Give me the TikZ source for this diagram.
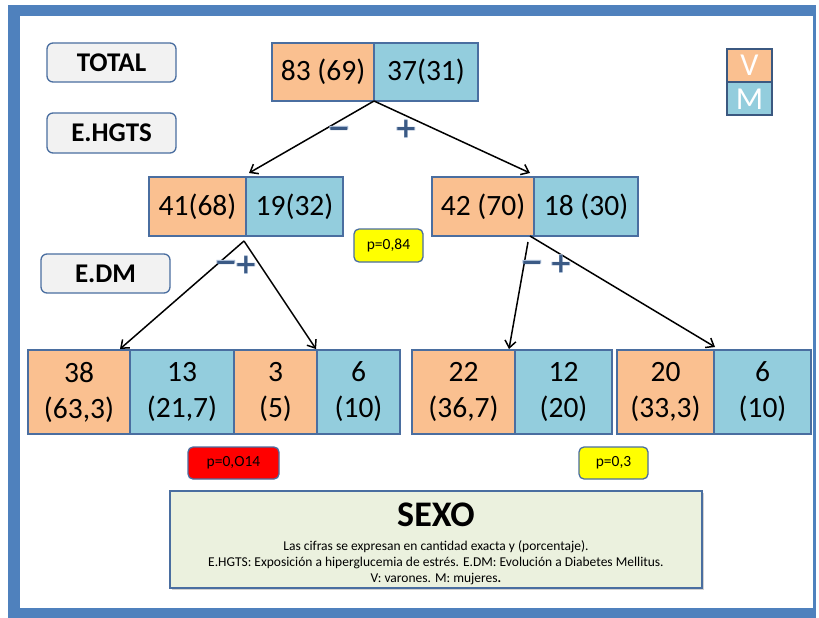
\documentclass[tikz,border=0pt]{standalone}
\usepackage{fontspec}
\setmainfont{Carlito}
\newfontfamily\signfont{DejaVu Sans}
\usetikzlibrary{arrows.meta,shadows}

\definecolor{vcol}{HTML}{FAC090}
\definecolor{mcol}{HTML}{93CDDD}
\definecolor{edgecol}{HTML}{4A6EA0}
\definecolor{framecol}{HTML}{4F81BD}
\definecolor{labelfill}{HTML}{F2F2F2}
\definecolor{notefill}{HTML}{EBF1DE}
\definecolor{signcol}{HTML}{3B5A85}
\definecolor{signglow}{HTML}{A9BCD6}
\definecolor{pyellow}{HTML}{FFFF00}
\definecolor{pred}{HTML}{FF0000}

\tikzset{
  cell/.style={draw=edgecol, line width=1.4pt, inner sep=0pt, outer sep=0pt,
    minimum height=#1, font=\fontsize{29.5}{31}\selectfont, text=black},
  vcell/.style={cell=58, fill=vcol},
  mcell/.style={cell=58, fill=mcol},
  vlow/.style={cell=84, fill=vcol, align=center,
    font=\fontsize{29.5}{36}\selectfont},
  mlow/.style={cell=84, fill=mcol, align=center,
    font=\fontsize{29.5}{36}\selectfont},
  levelbox/.style={draw=edgecol, line width=1.3pt, fill=labelfill,
    rounded corners=6pt, minimum width=129, minimum height=39,
    inner sep=0pt, font=\bfseries\fontsize{27}{29}\selectfont},
  pbox/.style={draw=edgecol, line width=1.3pt, rounded corners=5pt,
    minimum height=32, inner sep=0pt, font=\fontsize{15.5}{17}\selectfont},
  legendcell/.style={draw=edgecol!80!black, line width=1.8pt, minimum width=45,
    minimum height=33, inner sep=0pt, text=white,
    font=\fontsize{32}{32}\selectfont, text height=21pt, text depth=0pt},
  arr/.style={-{Straight Barb[length=7pt,width=11pt]}, line width=1.5pt, black},
  signhalo/.style={text=signglow, font=\signfont\bfseries\fontsize{30}{30}\selectfont,
    inner sep=0pt},
  sign/.style={text=signcol, font=\signfont\bfseries\fontsize{27}{27}\selectfont,
    inner sep=0pt}
}

\begin{document}
\begin{tikzpicture}[x=1pt,y=-1pt]
\useasboundingbox (0,0) rectangle (819,618);
\fill[white] (0,0) rectangle (819,618);

% page frame
\fill[framecol] (8,5) rectangle (816,618);
\fill[white] (20,16) rectangle (813,608);

% level labels
\node[levelbox] (lTotal) at (111.5,62.5) {TOTAL};
\node[levelbox, minimum height=40] (lHgts) at (111.5,133) {E.HGTS};
\node[levelbox] (lDm) at (105.5,273.5) {E.DM};

% root
\node[vcell, minimum width=102] (t1) at (323,72) {83 (69)};
\node[mcell, minimum width=104] (t2) at (426,72) {37(31)};

% second level
\node[vcell, minimum width=97, minimum height=59] (a1) at (197.5,206.5) {41(68)};
\node[mcell, minimum width=97, minimum height=59] (a2) at (294.5,206.5) {19(32)};
\node[vcell, minimum width=102, minimum height=59] (b1) at (483,206.5) {42 (70)};
\node[mcell, minimum width=104, minimum height=59] (b2) at (586,206.5) {18 (30)};

% third level
\node[vlow, minimum width=102] (c1) at (79,392) {38\\(63,3)};
\node[mlow, minimum width=104] (c2) at (182,392) {13\\(21,7)};
\node[vlow, minimum width=83] (c3) at (275.5,392) {3\\(5)};
\node[mlow, minimum width=83] (c4) at (358.5,392) {6\\(10)};
\node[vlow, minimum width=103] (d1) at (463.5,392) {22\\(36,7)};
\node[mlow, minimum width=97] (d2) at (563.5,392) {12\\(20)};
\node[vlow, minimum width=97] (e1) at (665.5,392) {20\\(33,3)};
\node[mlow, minimum width=97] (e2) at (762.5,392) {6\\(10)};

% branches
\draw[arr] (t1.south east) -- ([xshift=3pt,yshift=4pt]a1.north east);
\draw[arr] (t1.south east) -- ([xshift=-4pt,yshift=4pt]b1.north east);
\draw[arr] ([xshift=-2pt,yshift=-5pt]a1.south east) -- ([xshift=-10pt,yshift=1pt]c1.north east);
\draw[arr] ([xshift=-2pt,yshift=-5pt]a1.south east) -- ([xshift=-1pt,yshift=1pt]c3.north east);
\draw[arr] ([xshift=-6pt,yshift=-6pt]b1.south east) -- ([xshift=-6pt,yshift=1pt]d1.north east);
\draw[arr] ([xshift=-4pt]b1.south east) -- ([xshift=1pt,yshift=3pt]e1.north east);

% signs, each with a soft halo behind it
\foreach \nm/\sx/\sy/\sg in {s1m/339/132/−, s1p/406/129/+, s2m/226/266/−,
                             s2p/246/265/+, s3m/532/266/−, s3p/561/264/+} {
  \node[signhalo] (\nm h) at (\sx,\sy) {\sg};
  \node[sign] (\nm) at (\sx,\sy) {\sg};
}

% p values
\node[pbox, fill=pyellow, minimum width=69, minimum height=33] (p1) at (388.5,245.5) {p=0,84};
\node[pbox, fill=pred, minimum width=91] (p2) at (233.5,463) {p=0,O14};
\node[pbox, fill=pyellow, minimum width=69] (p3) at (613.5,463) {p=0,3};

% caption
\node[draw=edgecol, line width=1.3pt, fill=notefill, minimum width=532,
  minimum height=97, inner sep=0pt,
  drop shadow={shadow xshift=1.5pt, shadow yshift=-1.5pt, opacity=0.35}] (note) at (436,539.5) {};
\node[font=\bfseries\fontsize{36}{38}\selectfont] (noteTitle) at (436,515) {SEXO};
\node[align=center, font=\fontsize{13.5}{16}\selectfont, inner sep=0pt] (noteText) at (436,563)
  {Las cifras se expresan en cantidad exacta y (porcentaje).\\
   E.HGTS: Exposición a hiperglucemia de estrés. E.DM: Evolución a Diabetes Mellitus.\\
   V: varones. M: mujeres\textbf{.}};

% legend
\node[legendcell, fill=vcol] (legV) at (749.5,65.5) {V};
\node[legendcell, fill=mcol] (legM) at (749.5,98.5) {M};
\end{tikzpicture}
\end{document}
